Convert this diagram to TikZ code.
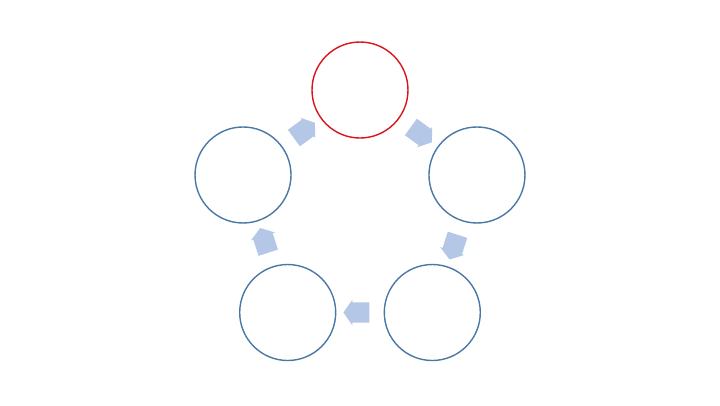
\documentclass[tikz,border=0pt]{standalone}
\usetikzlibrary{shapes.arrows,calc}

\definecolor{ringblue}{HTML}{4A78A6}
\definecolor{ringred}{HTML}{D9141E}
\definecolor{arrowfill}{HTML}{B4C7E7}

\begin{document}
\begin{tikzpicture}[x=1pt, y=1pt,
CircStyle/.style={circle, draw=ringblue, line width=1.4pt, minimum size=96pt,
                inner sep=0pt},
ArrStyle/.style={single arrow, fill=arrowfill, draw=none, inner sep=0pt,
                minimum height=26pt, minimum width=25pt, inner ysep=10pt,
                single arrow head extend=2.5pt, single arrow tip angle=110},]
\useasboundingbox (-360,-192) rectangle (360,213);
\node [CircStyle, draw=ringred] at (90:123) (c1) {};
\node [CircStyle] at (18:123) (c2) {};
\node [CircStyle] at (-54:123) (c3) {};
\node [CircStyle] at (-126:123) (c4) {};
\node [CircStyle] at (162:123) (c5) {};

\node [ArrStyle, rotate=-36] at ($(c1)!0.5!(c2)$) (a1) {};
\node [ArrStyle, rotate=-108] at ($(c2)!0.5!(c3)$) (a2) {};
\node [ArrStyle, rotate=180] at ($(c3)!0.5!(c4)$) (a3) {};
\node [ArrStyle, rotate=108] at ($(c4)!0.5!(c5)$) (a4) {};
\node [ArrStyle, rotate=36] at ($(c5)!0.5!(c1)$) (a5) {};
\end{tikzpicture}
\end{document}
